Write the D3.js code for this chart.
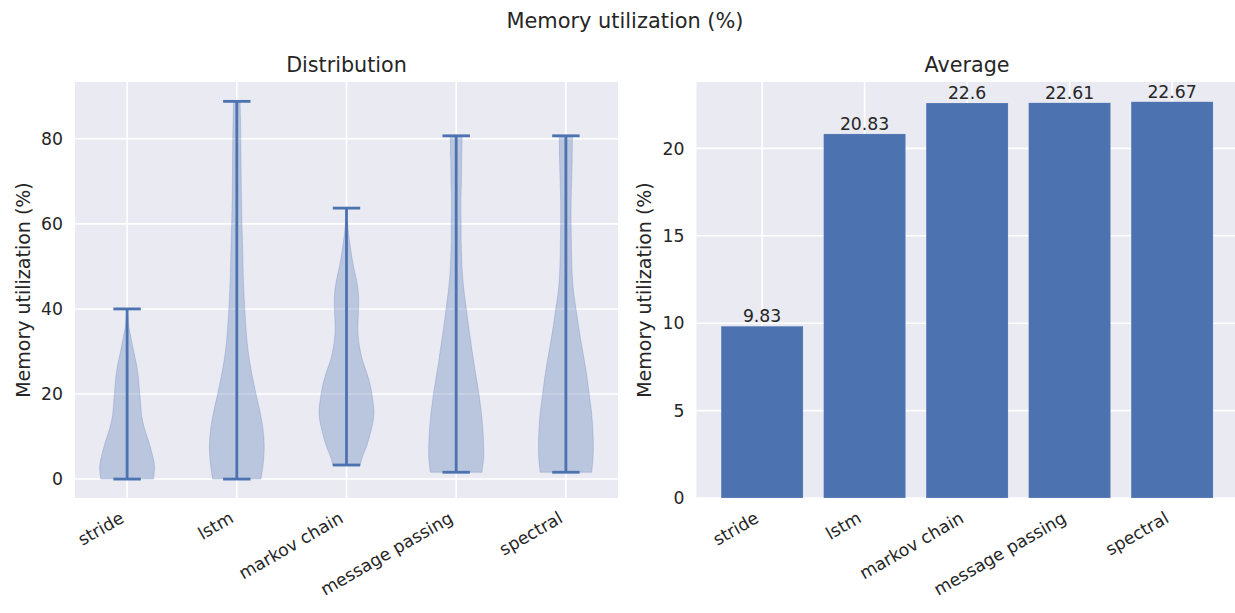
<!DOCTYPE html>
<html><head><meta charset="utf-8">
<script src="https://cdn.jsdelivr.net/npm/d3@7/dist/d3.min.js"></script>
<style>
body{margin:0;background:#fff;}
svg text{font-family:"DejaVu Sans",sans-serif;fill:#262626;}
</style>
</head><body>
<svg id="chart" width="1235" height="613"></svg>
<script>
// ---------------- data ----------------
const categories = ["stride", "lstm", "markov chain", "message passing", "spectral"];
const averages = [9.83, 20.83, 22.6, 22.61, 22.67];
const violinMin = [0, 0, 3.3, 1.6, 1.6];
const violinMax = [40, 88.8, 63.7, 80.7, 80.7];
// density profiles: [value, relative density]
const strideDensity = [[0,0.96],[3,1.0],[6,0.91],[9,0.78],[12,0.63],[15,0.53],[18,0.49],[21,0.45],[24,0.41],[27,0.34],[30,0.24],[33,0.15],[36,0.06],[40,0.01]];
const lstmDensity = [[0,0.88],[4,0.97],[8,1.0],[12,0.95],[16,0.84],[20,0.7],[24,0.57],[28,0.46],[32,0.38],[36,0.33],[40,0.29],[47,0.24],[55,0.21],[62,0.18],[70,0.16],[78,0.15],[86,0.13],[88.8,0.12]];
const markovDensity = [[3.3,0.5],[5,0.57],[8,0.75],[11,0.88],[14,0.98],[16,1.0],[19,0.95],[22,0.87],[25,0.74],[28,0.58],[31,0.48],[34,0.42],[37,0.42],[40,0.44],[43,0.44],[46,0.39],[49,0.29],[52,0.2],[55,0.13],[58,0.07],[61,0.03],[63.7,0.01]];
const messageDensity = [[1.6,0.94],[5,1.0],[8,1.0],[12,0.97],[16,0.91],[20,0.83],[24,0.73],[28,0.63],[32,0.54],[36,0.45],[40,0.37],[44,0.29],[48,0.23],[52,0.2],[56,0.18],[60,0.18],[65,0.17],[70,0.19],[75,0.2],[80.7,0.22]];
const spectralDensity = [[1.6,0.94],[5,0.99],[8,1.0],[12,0.98],[16,0.93],[20,0.85],[24,0.77],[28,0.67],[32,0.56],[36,0.46],[40,0.37],[44,0.28],[48,0.23],[52,0.21],[56,0.2],[60,0.19],[65,0.19],[70,0.21],[75,0.23],[80.7,0.24]];
const densities = [strideDensity, lstmDensity, markovDensity, messageDensity, spectralDensity];
const leftTicks = [0, 20, 40, 60, 80];
const rightTicks = [0, 5, 10, 15, 20];
const suptitle = "Memory utilization (%)";
const yLabel = "Memory utilization (%)";

// ---------------- layout ----------------
const C0 = "#4C72B0", BG = "#EAEAF2";
const TICKFS = 17.25, LABFS = 19, TFS = 20.7, BARFS = 17.25;
const svg = d3.select("#chart");
const axTop = 82, axBottom = 498;

svg.append("text").attr("x", 625).attr("y", 27.5).attr("text-anchor", "middle")
  .style("font-size", "20.9px").text(suptitle);

function panel(x0, x1, xScale, yScale, yTicks, xPositions, title, ylabX) {
  const g = svg.append("g");
  g.append("rect").attr("x", x0).attr("y", axTop).attr("width", x1 - x0).attr("height", axBottom - axTop).attr("fill", BG);
  g.selectAll(".hg").data(yTicks).join("line")
    .attr("x1", x0).attr("x2", x1).attr("y1", d => yScale(d)).attr("y2", d => yScale(d))
    .attr("stroke", "#fff").attr("stroke-width", 1.6);
  g.selectAll(".vg").data(xPositions).join("line")
    .attr("x1", d => xScale(d)).attr("x2", d => xScale(d)).attr("y1", axTop).attr("y2", axBottom)
    .attr("stroke", "#fff").attr("stroke-width", 1.6);
  g.selectAll(".yt").data(yTicks).join("text")
    .attr("x", x0 - 12.1).attr("y", d => yScale(d)).attr("dy", "0.36em")
    .attr("text-anchor", "end").style("font-size", TICKFS + "px").text(d => d);
  const a = 0.76 * TICKFS, dsc = 0.236 * TICKFS, th = 30 * Math.PI / 180, pad = 12.1;
  g.selectAll(".xt").data(xPositions).join("text")
    .attr("text-anchor", "end").style("font-size", TICKFS + "px")
    .attr("transform", d => `translate(${xScale(d) - dsc * Math.sin(th)},${axBottom + pad + a * Math.cos(th)}) rotate(-30)`)
    .text((d, i) => categories[i]);
  g.append("text").attr("x", (x0 + x1) / 2).attr("y", 71.5).attr("text-anchor", "middle")
    .style("font-size", TFS + "px").text(title);
  g.append("text").attr("transform", `translate(${ylabX},${(axTop + axBottom) / 2}) rotate(-90)`)
    .attr("text-anchor", "middle").style("font-size", LABFS + "px").text(yLabel);
  return g;
}

// ---- left: violins ----
const xL = d3.scaleLinear().domain([0.525, 5.475]).range([75, 618]);
const yL = d3.scaleLinear().domain([-4.45, 93.35]).range([axBottom, axTop]);
const positions = categories.map((c, i) => i + 1);
const gL = panel(75, 618, xL, yL, leftTicks, positions, "Distribution", 29.5);
const halfW = xL(1.25) - xL(1);
const capW = xL(1.125) - xL(1);
densities.forEach((dens, i) => {
  const cx = xL(positions[i]);
  const area = d3.area()
    .y(d => yL(d[0]))
    .x0(d => cx - d[1] * halfW)
    .x1(d => cx + d[1] * halfW)
    .curve(d3.curveCatmullRom.alpha(0.5));
  gL.append("path").attr("d", area(dens)).attr("fill", C0).attr("fill-opacity", 0.3)
    .attr("stroke", C0).attr("stroke-opacity", 0.3).attr("stroke-width", 0.8);
  gL.append("line").attr("x1", cx).attr("x2", cx).attr("y1", yL(violinMin[i])).attr("y2", yL(violinMax[i]))
    .attr("stroke", C0).attr("stroke-width", 2.8);
  [violinMin[i], violinMax[i]].forEach(v => {
    gL.append("line").attr("x1", cx - capW).attr("x2", cx + capW).attr("y1", yL(v)).attr("y2", yL(v))
      .attr("stroke", C0).attr("stroke-width", 2.8);
  });
});

// ---- right: bars ----
const xR = d3.scaleLinear().domain([-0.64, 4.64]).range([696.5, 1237.7]);
const yR = d3.scaleLinear().domain([0, 23.8]).range([axBottom, axTop]);
const idx = categories.map((c, i) => i);
const gR = panel(696.5, 1237.7, xR, yR, rightTicks, idx, "Average", 651);
gR.selectAll(".bar").data(averages).join("rect")
  .attr("x", (d, i) => xR(i - 0.4)).attr("width", (d, i) => xR(i + 0.4) - xR(i - 0.4))
  .attr("y", d => yR(d)).attr("height", d => yR(0) - yR(d)).attr("fill", C0)
  .attr("stroke", "#fff").attr("stroke-opacity", 0.35).attr("stroke-width", 0.5);
gR.selectAll(".bl").data(averages).join("text")
  .attr("x", (d, i) => xR(i)).attr("y", d => yR(d) - 4).attr("text-anchor", "middle")
  .style("font-size", BARFS + "px").text(d => d);
</script>
</body></html>
